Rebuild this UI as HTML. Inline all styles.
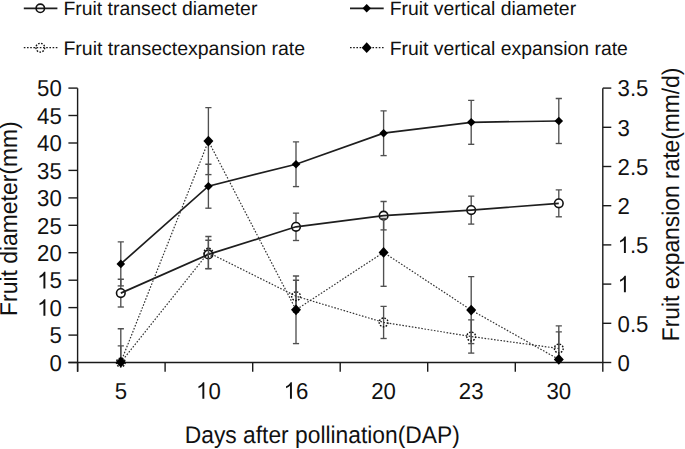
<!DOCTYPE html><html><head><meta charset="utf-8"><style>html,body{margin:0;padding:0;background:#fff;width:685px;height:449px;overflow:hidden}svg{display:block}text{text-rendering:geometricPrecision;font-family:"Liberation Sans", sans-serif;fill:#111}</style></head><body>
<svg width="685" height="449" viewBox="0 0 685 449">
<rect width="685" height="449" fill="#fff"/><g>
<path d="M77.6 88.2V371.7M602.8 88.2V362.5M68.4 362.5H602.8" stroke="#1a1a1a" stroke-width="1.4" fill="none"/>
<path d="M68.4 362.5H77.6" stroke="#1a1a1a" stroke-width="1.4" fill="none"/>
<g transform="translate(49.45 370.70) scale(1 1.04)"><text x="0" y="0" font-size="22.2">0</text></g>
<path d="M68.4 335.1H77.6" stroke="#1a1a1a" stroke-width="1.4" fill="none"/>
<g transform="translate(49.45 343.26) scale(1 1.04)"><text x="0" y="0" font-size="22.2">5</text></g>
<path d="M68.4 307.6H77.6" stroke="#1a1a1a" stroke-width="1.4" fill="none"/>
<g transform="translate(37.11 315.82) scale(1 1.04)"><text x="0" y="0" font-size="22.2"> 0</text><path d="M8.27 0.00L6.32 0.00L6.32 -12.43Q5.59 -11.74 4.42 -11.06Q3.25 -10.37 2.43 -10.08L2.43 -11.97Q4.04 -12.73 5.26 -13.81Q6.47 -14.89 6.97 -15.89L8.27 -15.89Z" fill="#111"/></g>
<path d="M68.4 280.2H77.6" stroke="#1a1a1a" stroke-width="1.4" fill="none"/>
<g transform="translate(37.11 288.38) scale(1 1.04)"><text x="0" y="0" font-size="22.2"> 5</text><path d="M8.27 0.00L6.32 0.00L6.32 -12.43Q5.59 -11.74 4.42 -11.06Q3.25 -10.37 2.43 -10.08L2.43 -11.97Q4.04 -12.73 5.26 -13.81Q6.47 -14.89 6.97 -15.89L8.27 -15.89Z" fill="#111"/></g>
<path d="M68.4 252.7H77.6" stroke="#1a1a1a" stroke-width="1.4" fill="none"/>
<g transform="translate(37.11 260.94) scale(1 1.04)"><text x="0" y="0" font-size="22.2">20</text></g>
<path d="M68.4 225.3H77.6" stroke="#1a1a1a" stroke-width="1.4" fill="none"/>
<g transform="translate(37.11 233.50) scale(1 1.04)"><text x="0" y="0" font-size="22.2">25</text></g>
<path d="M68.4 197.9H77.6" stroke="#1a1a1a" stroke-width="1.4" fill="none"/>
<g transform="translate(37.11 206.06) scale(1 1.04)"><text x="0" y="0" font-size="22.2">30</text></g>
<path d="M68.4 170.4H77.6" stroke="#1a1a1a" stroke-width="1.4" fill="none"/>
<g transform="translate(37.11 178.62) scale(1 1.04)"><text x="0" y="0" font-size="22.2">35</text></g>
<path d="M68.4 143.0H77.6" stroke="#1a1a1a" stroke-width="1.4" fill="none"/>
<g transform="translate(37.11 151.18) scale(1 1.04)"><text x="0" y="0" font-size="22.2">40</text></g>
<path d="M68.4 115.5H77.6" stroke="#1a1a1a" stroke-width="1.4" fill="none"/>
<g transform="translate(37.11 123.74) scale(1 1.04)"><text x="0" y="0" font-size="22.2">45</text></g>
<path d="M68.4 88.1H77.6" stroke="#1a1a1a" stroke-width="1.4" fill="none"/>
<g transform="translate(37.11 96.30) scale(1 1.04)"><text x="0" y="0" font-size="22.2">50</text></g>
<path d="M602.8 362.5H611.3" stroke="#1a1a1a" stroke-width="1.4" fill="none"/>
<g transform="translate(617.60 370.70) scale(1 1.04)"><text x="0" y="0" font-size="22.2">0</text></g>
<path d="M602.8 323.3H611.3" stroke="#1a1a1a" stroke-width="1.4" fill="none"/>
<g transform="translate(617.60 331.50) scale(1 1.04)"><text x="0" y="0" font-size="22.2">0.5</text></g>
<path d="M602.8 284.1H611.3" stroke="#1a1a1a" stroke-width="1.4" fill="none"/>
<g transform="translate(617.60 292.30) scale(1 1.04)"><text x="0" y="0" font-size="22.2"> </text><path d="M8.27 0.00L6.32 0.00L6.32 -12.43Q5.59 -11.74 4.42 -11.06Q3.25 -10.37 2.43 -10.08L2.43 -11.97Q4.04 -12.73 5.26 -13.81Q6.47 -14.89 6.97 -15.89L8.27 -15.89Z" fill="#111"/></g>
<path d="M602.8 244.9H611.3" stroke="#1a1a1a" stroke-width="1.4" fill="none"/>
<g transform="translate(617.60 253.10) scale(1 1.04)"><text x="0" y="0" font-size="22.2"> .5</text><path d="M8.27 0.00L6.32 0.00L6.32 -12.43Q5.59 -11.74 4.42 -11.06Q3.25 -10.37 2.43 -10.08L2.43 -11.97Q4.04 -12.73 5.26 -13.81Q6.47 -14.89 6.97 -15.89L8.27 -15.89Z" fill="#111"/></g>
<path d="M602.8 205.7H611.3" stroke="#1a1a1a" stroke-width="1.4" fill="none"/>
<g transform="translate(617.60 213.90) scale(1 1.04)"><text x="0" y="0" font-size="22.2">2</text></g>
<path d="M602.8 166.5H611.3" stroke="#1a1a1a" stroke-width="1.4" fill="none"/>
<g transform="translate(617.60 174.70) scale(1 1.04)"><text x="0" y="0" font-size="22.2">2.5</text></g>
<path d="M602.8 127.3H611.3" stroke="#1a1a1a" stroke-width="1.4" fill="none"/>
<g transform="translate(617.60 135.50) scale(1 1.04)"><text x="0" y="0" font-size="22.2">3</text></g>
<path d="M602.8 88.1H611.3" stroke="#1a1a1a" stroke-width="1.4" fill="none"/>
<g transform="translate(617.60 96.30) scale(1 1.04)"><text x="0" y="0" font-size="22.2">3.5</text></g>
<path d="M77.6 362.5V371.7" stroke="#1a1a1a" stroke-width="1.4" fill="none"/>
<path d="M165.1 362.5V371.7" stroke="#1a1a1a" stroke-width="1.4" fill="none"/>
<path d="M252.7 362.5V371.7" stroke="#1a1a1a" stroke-width="1.4" fill="none"/>
<path d="M340.2 362.5V371.7" stroke="#1a1a1a" stroke-width="1.4" fill="none"/>
<path d="M427.7 362.5V371.7" stroke="#1a1a1a" stroke-width="1.4" fill="none"/>
<path d="M515.3 362.5V371.7" stroke="#1a1a1a" stroke-width="1.4" fill="none"/>
<path d="M602.8 362.5V371.7" stroke="#1a1a1a" stroke-width="1.4" fill="none"/>
<g transform="translate(114.63 398.80) scale(1 1.04)"><text x="0" y="0" font-size="22.2">5</text></g>
<g transform="translate(196.05 398.80) scale(1 1.04)"><text x="0" y="0" font-size="22.2"> 0</text><path d="M8.27 0.00L6.32 0.00L6.32 -12.43Q5.59 -11.74 4.42 -11.06Q3.25 -10.37 2.43 -10.08L2.43 -11.97Q4.04 -12.73 5.26 -13.81Q6.47 -14.89 6.97 -15.89L8.27 -15.89Z" fill="#111"/></g>
<g transform="translate(283.65 398.80) scale(1 1.04)"><text x="0" y="0" font-size="22.2"> 6</text><path d="M8.27 0.00L6.32 0.00L6.32 -12.43Q5.59 -11.74 4.42 -11.06Q3.25 -10.37 2.43 -10.08L2.43 -11.97Q4.04 -12.73 5.26 -13.81Q6.47 -14.89 6.97 -15.89L8.27 -15.89Z" fill="#111"/></g>
<g transform="translate(371.25 398.80) scale(1 1.04)"><text x="0" y="0" font-size="22.2">20</text></g>
<g transform="translate(458.85 398.80) scale(1 1.04)"><text x="0" y="0" font-size="22.2">23</text></g>
<g transform="translate(546.45 398.80) scale(1 1.04)"><text x="0" y="0" font-size="22.2">30</text></g>
<path d="M120.8 241.9V285.9M117.7 241.9H123.9" stroke="#505050" stroke-width="1.35" fill="none"/>
<path d="M117.7 285.9H123.9" stroke="#505050" stroke-width="1.35" fill="none"/>
<path d="M208.4 164.2V208.2M205.3 164.2H211.5" stroke="#505050" stroke-width="1.35" fill="none"/>
<path d="M205.3 208.2H211.5" stroke="#505050" stroke-width="1.35" fill="none"/>
<path d="M296.0 141.8V186.6M292.9 141.8H299.1" stroke="#505050" stroke-width="1.35" fill="none"/>
<path d="M292.9 186.6H299.1" stroke="#505050" stroke-width="1.35" fill="none"/>
<path d="M383.6 110.8V155.6M380.5 110.8H386.7" stroke="#505050" stroke-width="1.35" fill="none"/>
<path d="M380.5 155.6H386.7" stroke="#505050" stroke-width="1.35" fill="none"/>
<path d="M471.2 100.3V144.3M468.1 100.3H474.3" stroke="#505050" stroke-width="1.35" fill="none"/>
<path d="M468.1 144.3H474.3" stroke="#505050" stroke-width="1.35" fill="none"/>
<path d="M558.8 98.5V143.5M555.7 98.5H561.9" stroke="#505050" stroke-width="1.35" fill="none"/>
<path d="M555.7 143.5H561.9" stroke="#505050" stroke-width="1.35" fill="none"/>
<path d="M120.8 279.2V307.0M117.7 279.2H123.9" stroke="#505050" stroke-width="1.35" fill="none"/>
<path d="M117.7 307.0H123.9" stroke="#505050" stroke-width="1.35" fill="none"/>
<path d="M208.4 240.2V268.6M205.3 240.2H211.5" stroke="#505050" stroke-width="1.35" fill="none"/>
<path d="M205.3 268.6H211.5" stroke="#505050" stroke-width="1.35" fill="none"/>
<path d="M296.0 213.1V240.5M292.9 213.1H299.1" stroke="#505050" stroke-width="1.35" fill="none"/>
<path d="M292.9 240.5H299.1" stroke="#505050" stroke-width="1.35" fill="none"/>
<path d="M383.6 201.5V229.9M380.5 201.5H386.7" stroke="#505050" stroke-width="1.35" fill="none"/>
<path d="M380.5 229.9H386.7" stroke="#505050" stroke-width="1.35" fill="none"/>
<path d="M471.2 196.1V224.1M468.1 196.1H474.3" stroke="#505050" stroke-width="1.35" fill="none"/>
<path d="M468.1 224.1H474.3" stroke="#505050" stroke-width="1.35" fill="none"/>
<path d="M558.8 189.8V216.8M555.7 189.8H561.9" stroke="#505050" stroke-width="1.35" fill="none"/>
<path d="M555.7 216.8H561.9" stroke="#505050" stroke-width="1.35" fill="none"/>
<circle cx="120.8" cy="293.1" r="4.3" fill="#fff" stroke="#111" stroke-width="1.6"/>
<circle cx="208.4" cy="254.4" r="4.3" fill="#fff" stroke="#111" stroke-width="1.6"/>
<circle cx="296.0" cy="226.8" r="4.3" fill="#fff" stroke="#111" stroke-width="1.6"/>
<circle cx="383.6" cy="215.7" r="4.3" fill="#fff" stroke="#111" stroke-width="1.6"/>
<circle cx="471.2" cy="210.1" r="4.3" fill="#fff" stroke="#111" stroke-width="1.6"/>
<circle cx="558.8" cy="203.3" r="4.3" fill="#fff" stroke="#111" stroke-width="1.6"/>
<polyline points="120.8,293.1 208.4,254.4 296.0,226.8 383.6,215.7 471.2,210.1 558.8,203.3" stroke="#1e1e1e" stroke-width="1.7" fill="none"/>
<polyline points="120.8,263.9 208.4,186.2 296.0,164.2 383.6,133.2 471.2,122.3 558.8,121.0" stroke="#1e1e1e" stroke-width="1.7" fill="none"/>
<path d="M120.8 259.6L125.1 263.9L120.8 268.2L116.5 263.9Z" fill="#000"/>
<path d="M208.4 181.9L212.7 186.2L208.4 190.5L204.1 186.2Z" fill="#000"/>
<path d="M296.0 159.9L300.3 164.2L296.0 168.5L291.7 164.2Z" fill="#000"/>
<path d="M383.6 128.9L387.9 133.2L383.6 137.5L379.3 133.2Z" fill="#000"/>
<path d="M471.2 118.0L475.5 122.3L471.2 126.6L466.9 122.3Z" fill="#000"/>
<path d="M558.8 116.7L563.1 121.0L558.8 125.3L554.5 121.0Z" fill="#000"/>
<path d="M120.8 328.7V362.5M117.7 328.7H123.9" stroke="#505050" stroke-width="1.35" fill="none"/>
<path d="M208.4 107.6V174.6M205.3 107.6H211.5" stroke="#505050" stroke-width="1.35" fill="none"/>
<path d="M205.3 174.6H211.5" stroke="#505050" stroke-width="1.35" fill="none"/>
<path d="M296.0 276.0V343.6M292.9 276.0H299.1" stroke="#505050" stroke-width="1.35" fill="none"/>
<path d="M292.9 343.6H299.1" stroke="#505050" stroke-width="1.35" fill="none"/>
<path d="M383.6 218.5V286.3M380.5 218.5H386.7" stroke="#505050" stroke-width="1.35" fill="none"/>
<path d="M380.5 286.3H386.7" stroke="#505050" stroke-width="1.35" fill="none"/>
<path d="M471.2 276.6V343.6M468.1 276.6H474.3" stroke="#505050" stroke-width="1.35" fill="none"/>
<path d="M468.1 343.6H474.3" stroke="#505050" stroke-width="1.35" fill="none"/>
<path d="M558.8 325.9V362.5M555.7 325.9H561.9" stroke="#505050" stroke-width="1.35" fill="none"/>
<path d="M120.8 345.9V362.5M117.7 345.9H123.9" stroke="#505050" stroke-width="1.35" fill="none"/>
<path d="M208.4 236.5V268.7M205.3 236.5H211.5" stroke="#505050" stroke-width="1.35" fill="none"/>
<path d="M205.3 268.7H211.5" stroke="#505050" stroke-width="1.35" fill="none"/>
<path d="M296.0 280.2V312.2M292.9 280.2H299.1" stroke="#505050" stroke-width="1.35" fill="none"/>
<path d="M292.9 312.2H299.1" stroke="#505050" stroke-width="1.35" fill="none"/>
<path d="M383.6 306.3V338.5M380.5 306.3H386.7" stroke="#505050" stroke-width="1.35" fill="none"/>
<path d="M380.5 338.5H386.7" stroke="#505050" stroke-width="1.35" fill="none"/>
<path d="M471.2 319.9V353.1M468.1 319.9H474.3" stroke="#505050" stroke-width="1.35" fill="none"/>
<path d="M468.1 353.1H474.3" stroke="#505050" stroke-width="1.35" fill="none"/>
<path d="M558.8 331.8V362.5M555.7 331.8H561.9" stroke="#505050" stroke-width="1.35" fill="none"/>
<polyline points="120.8,362.5 208.4,252.6 296.0,296.2 383.6,322.4 471.2,336.5 558.8,348.5" stroke="#333" stroke-width="1.2" stroke-dasharray="1.6 1.6" fill="none"/>
<polyline points="120.8,362.2 208.4,141.1 296.0,309.8 383.6,252.4 471.2,310.1 558.8,359.4" stroke="#333" stroke-width="1.2" stroke-dasharray="1.6 1.6" fill="none"/>
<circle cx="120.8" cy="362.5" r="4.4" fill="none" stroke="#111" stroke-width="1.4" stroke-dasharray="1.6 1.4"/>
<circle cx="208.4" cy="252.6" r="4.4" fill="none" stroke="#111" stroke-width="1.4" stroke-dasharray="1.6 1.4"/>
<circle cx="296.0" cy="296.2" r="4.4" fill="none" stroke="#111" stroke-width="1.4" stroke-dasharray="1.6 1.4"/>
<circle cx="383.6" cy="322.4" r="4.4" fill="none" stroke="#111" stroke-width="1.4" stroke-dasharray="1.6 1.4"/>
<circle cx="471.2" cy="336.5" r="4.4" fill="none" stroke="#111" stroke-width="1.4" stroke-dasharray="1.6 1.4"/>
<circle cx="558.8" cy="348.5" r="4.4" fill="none" stroke="#111" stroke-width="1.4" stroke-dasharray="1.6 1.4"/>
<path d="M120.8 356.8L125.8 362.2L120.8 367.6L115.8 362.2Z" fill="#000"/>
<path d="M208.4 135.7L213.4 141.1L208.4 146.5L203.4 141.1Z" fill="#000"/>
<path d="M296.0 304.4L301.0 309.8L296.0 315.2L291.0 309.8Z" fill="#000"/>
<path d="M383.6 247.0L388.6 252.4L383.6 257.8L378.6 252.4Z" fill="#000"/>
<path d="M471.2 304.7L476.2 310.1L471.2 315.5L466.2 310.1Z" fill="#000"/>
<path d="M558.8 354.0L563.8 359.4L558.8 364.8L553.8 359.4Z" fill="#000"/>
<path d="M23.8 8.3H57.4" stroke="#1e1e1e" stroke-width="1.7"/>
<circle cx="40.3" cy="8.3" r="4.2" fill="none" stroke="#111" stroke-width="1.6"/>
<path d="M23.8 47.7H57.4" stroke="#1a1a1a" stroke-width="1.3" stroke-dasharray="1.6 1.6"/>
<circle cx="40.3" cy="47.7" r="4.4" fill="none" stroke="#111" stroke-width="1.4" stroke-dasharray="1.6 1.4"/>
<path d="M350 8.3H383.7" stroke="#1e1e1e" stroke-width="1.7"/>
<path d="M366.7 4.1L370.9 8.3L366.7 12.5L362.5 8.3Z" fill="#000"/>
<path d="M350 47.7H383.7" stroke="#1a1a1a" stroke-width="1.3" stroke-dasharray="1.6 1.6"/>
<path d="M366.7 42.3L371.7 47.7L366.7 53.1L361.7 47.7Z" fill="#000"/>
<text x="63.4" y="14.6" font-size="19.4">Fruit transect diameter</text>
<text x="63.4" y="55.1" font-size="19.5">Fruit transectexpansion rate</text>
<text x="389.7" y="14.6" font-size="19.4">Fruit vertical diameter</text>
<text x="389.7" y="55.1" font-size="19.4">Fruit vertical expansion rate</text>
<text transform="translate(184.8 442.6) scale(1 1.06)" font-size="22.8">Days after pollination(DAP)</text>
<text transform="translate(16.9,315.9) rotate(-90) scale(1 1.06)" font-size="22.9">Fruit diameter(mm)</text>
<text transform="translate(678.5,341.3) rotate(-90) scale(1 1.06)" font-size="22.8">Fruit expansion rate(mm/d)</text>
</g></svg></body></html>
